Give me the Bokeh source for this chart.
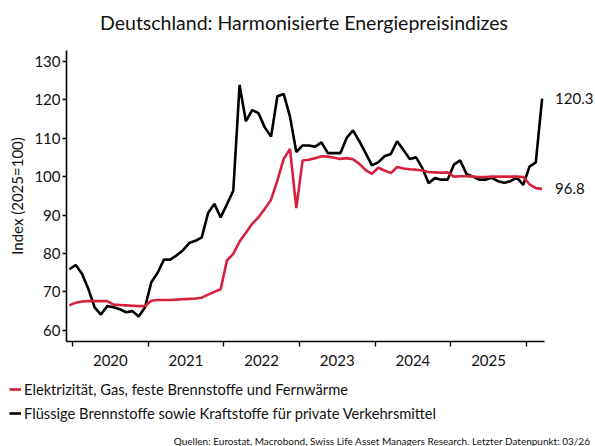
import pandas as pd
from bokeh.plotting import figure
from bokeh.models import (Range1d, FixedTicker, CustomJSTickFormatter, Legend,
                          LegendItem, Label)
from bokeh.embed import file_html
from bokeh.resources import INLINE

# ---- data -------------------------------------------------------------
months = pd.period_range("2019-12", "2026-03", freq="M")

energy = [66.5, 67.2, 67.5, 67.6, 67.6, 67.6, 67.6, 66.7, 66.6, 66.5, 66.4, 66.3,
          66.3, 67.7, 67.9, 67.9, 67.9, 68.0, 68.1, 68.2, 68.3, 68.5, 69.3, 70.0,
          70.7, 78.2, 79.9, 83.1, 85.4, 87.7, 89.4, 91.6, 94.0, 99.0, 104.6, 107.2,
          91.8, 104.2, 104.4, 104.8, 105.3, 105.2, 104.9, 104.6, 104.8, 104.5, 103.3, 101.7,
          100.7, 102.3, 101.6, 100.9, 102.5, 102.1, 101.9, 101.8, 101.6, 101.2, 101.1, 101.0,
          101.1, 100.0, 100.1, 100.1, 100.0, 99.9, 99.9, 100.0, 100.0, 100.0, 100.0, 100.0,
          99.9, 98.0, 97.0, 96.8]

fuel = [75.9, 77.0, 74.7, 70.8, 66.0, 64.1, 66.3, 66.0, 65.5, 64.7, 65.0, 63.6,
        66.0, 72.5, 75.0, 78.4, 78.4, 79.5, 80.8, 82.7, 83.3, 84.2, 90.5, 92.9,
        89.4, 92.8, 96.3, 123.8, 114.4, 117.3, 116.5, 112.8, 110.4, 120.9, 121.5, 115.6,
        106.4, 108.1, 108.1, 107.8, 108.9, 106.1, 106.1, 106.1, 110.1, 112.0, 109.2, 106.1,
        102.9, 103.7, 105.3, 105.9, 109.2, 106.9, 104.6, 105.0, 102.2, 98.3, 99.6, 99.2,
        99.2, 103.1, 104.2, 100.7, 100.0, 99.2, 99.2, 99.7, 98.8, 98.4, 98.8, 99.8,
        97.8, 102.6, 103.7, 120.3]

series_names = ["Elektrizität, Gas, feste Brennstoffe und Fernwärme",
                "Flüssige Brennstoffe sowie Kraftstoffe für private Verkehrsmittel"]
years = [2020, 2021, 2022, 2023, 2024, 2025]
y_ticks = [60, 70, 80, 90, 100, 110, 120, 130]

title_text = "Deutschland: Harmonisierte Energiepreisindizes"
y_label = "Index (2025=100)"
source_text = ("Quellen: Eurostat, Macrobond, Swiss Life Asset Managers Research. "
               "Letzter Datenpunkt: 03/26")

x = [m.year + (m.month - 0.5) / 12 for m in months]

# ---- layout geometry (pixels) -------------------------------------------
FONT = "Lato"
RED = "#D7213C"
BLACK = "#000000"
TXT = "#111111"

W, H = 595, 446
AX_L, AX_R, AX_T, AX_B = 66, 544, 50, 341      # visible axes box
X0, X1 = 2019.92, 2026.24                      # visible x extent
Y0, Y1 = 57.1, 132.8                           # visible y extent
sx = (AX_R - AX_L) / (X1 - X0)
sy = (AX_B - AX_T) / (Y1 - Y0)

# the frame covers the whole canvas; axes are pinned inside it
x_range = Range1d(X0 - AX_L / sx, X0 + (W - AX_L) / sx)
y_range = Range1d(Y1 - (H - AX_T) / sy, Y1 + AX_T / sy)

p = figure(width=W, height=H, output_backend="svg", toolbar_location=None,
           title_location=None, x_range=x_range, y_range=y_range,
           min_border=0, background_fill_color="white",
           border_fill_color="white")
p.outline_line_color = None
p.grid.visible = False

r_fuel = p.line(x, fuel, line_color=BLACK, line_width=2.6)
r_energy = p.line(x, energy, line_color=RED, line_width=2.6)

# x axis: year boundaries as (minor) ticks, year labels centred between them
bounds = years + [years[-1] + 1]
p.xaxis.fixed_location = Y0
p.xaxis.bounds = (X0, X1)
p.xaxis.ticker = FixedTicker(ticks=[yy + 0.5 for yy in years], minor_ticks=bounds)
p.xaxis.formatter = CustomJSTickFormatter(code="return Math.floor(tick).toFixed(0)")
p.xaxis.major_tick_out = 0
p.xaxis.major_tick_in = 0
p.xaxis.minor_tick_out = 5
p.xaxis.minor_tick_in = 0
p.xaxis.minor_tick_line_color = BLACK
p.xaxis.minor_tick_line_width = 1.3
p.xaxis.major_label_standoff = 8

p.yaxis.fixed_location = X0
p.yaxis.bounds = (Y0, Y1)
p.yaxis.ticker = FixedTicker(ticks=y_ticks)
p.yaxis.minor_tick_line_color = None
p.yaxis.major_tick_out = 4
p.yaxis.major_tick_in = 0
p.yaxis.major_tick_line_width = 1.3
p.yaxis.major_label_standoff = 2
p.yaxis.axis_label = y_label
p.yaxis.axis_label_standoff = 5

for ax in (p.xaxis, p.yaxis):
    ax.axis_line_color = BLACK
    ax.axis_line_width = 1.6
    ax.major_tick_line_color = BLACK
    ax.major_label_text_font = FONT
    ax.major_label_text_font_size = "15px"
    ax.major_label_text_color = TXT
    ax.axis_label_text_font = FONT
    ax.axis_label_text_font_size = "15px"
    ax.axis_label_text_font_style = "normal"
    ax.axis_label_text_color = TXT

# title (screen units: from frame left / bottom = canvas)
p.add_layout(Label(x=303.5, y=H - 22, x_units="screen", y_units="screen",
                   text=title_text, text_align="center", text_baseline="middle",
                   text_font=FONT, text_font_size="19.5px", text_color=TXT))

# end-value labels
for vals in (fuel, energy):
    p.add_layout(Label(x=x[-1], y=vals[-1], text=f"{vals[-1]:.1f}", x_offset=13,
                       text_baseline="middle", text_font=FONT,
                       text_font_size="15px", text_color=TXT))

# legend below the chart
legend = Legend(items=[LegendItem(label=series_names[0], renderers=[r_energy]),
                       LegendItem(label=series_names[1], renderers=[r_fuel])],
                location=(9, H - 423), orientation="vertical",
                glyph_width=12, glyph_height=20, label_height=20, spacing=4,
                label_standoff=3, padding=0, margin=0,
                border_line_color=None, background_fill_alpha=0,
                label_text_font=FONT, label_text_font_size="14.7px",
                label_text_color=TXT)
p.add_layout(legend)

# source line
p.add_layout(Label(x=590, y=H - 440, x_units="screen", y_units="screen",
                   text=source_text, text_align="right", text_baseline="middle",
                   text_font=FONT, text_font_size="10px", text_color=TXT))

open("out.html", "w").write(file_html(p, INLINE))
